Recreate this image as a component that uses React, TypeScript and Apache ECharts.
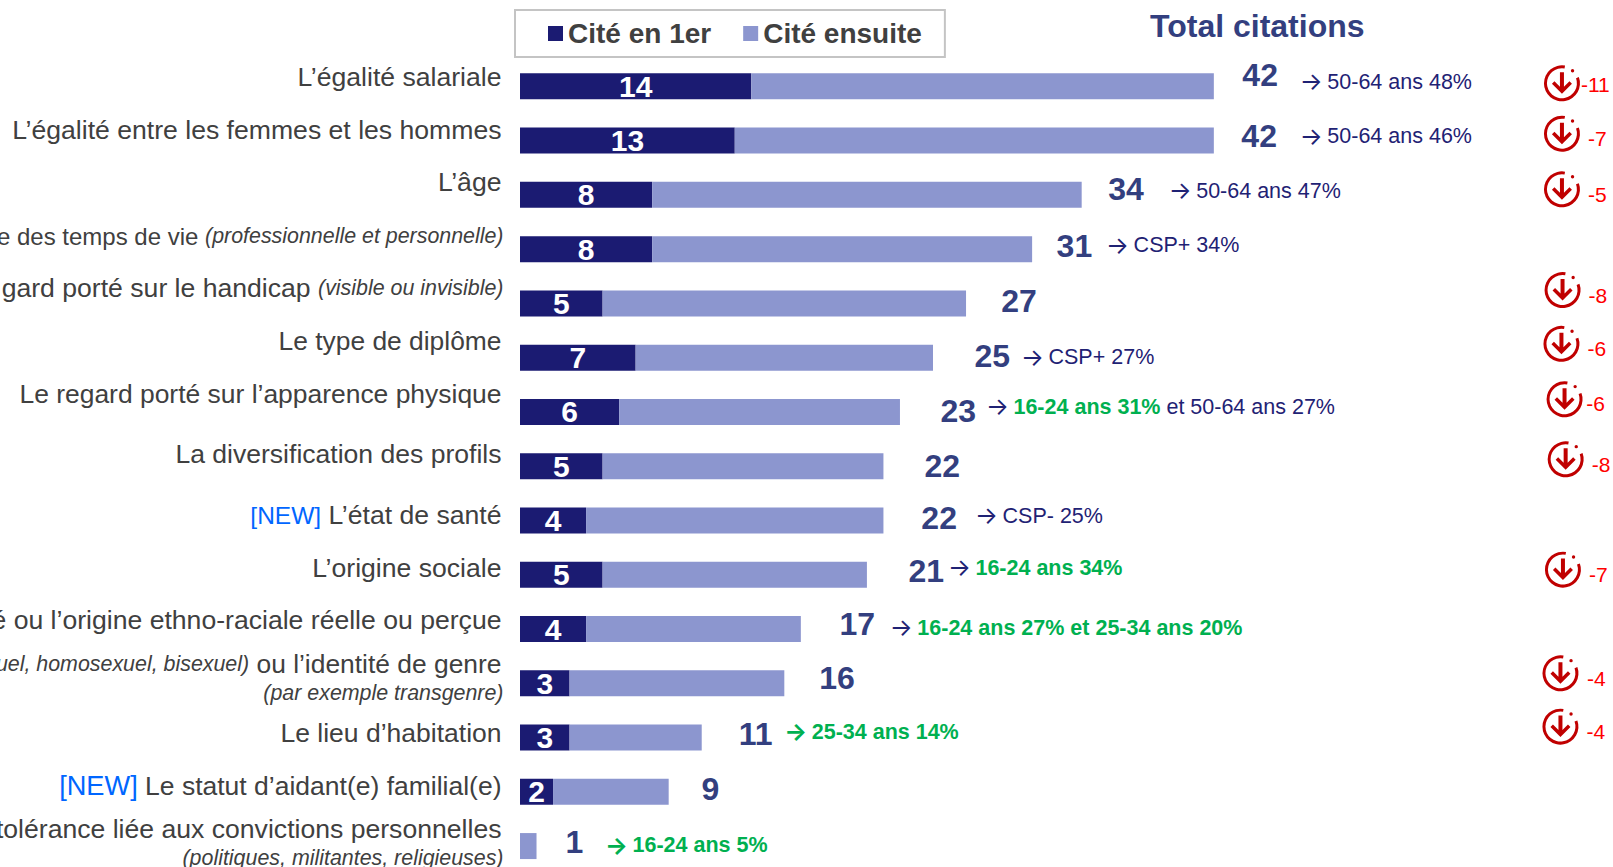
import React, { useEffect, useRef } from "react";
import * as echarts from "echarts";

const categories = [
  "L’égalité salariale",
  "L’égalité entre les femmes et les hommes",
  "L’âge",
  "e des temps de vie (professionnelle et personnelle)",
  "gard porté sur le handicap (visible ou invisible)",
  "Le type de diplôme",
  "Le regard porté sur l’apparence physique",
  "La diversification des profils",
  "[NEW] L’état de santé",
  "L’origine sociale",
  "é ou l’origine ethno-raciale réelle ou perçue",
  "uel, homosexuel, bisexuel) ou l’identité de genre\n(par exemple transgenre)",
  "Le lieu d’habitation",
  "[NEW] Le statut d’aidant(e) familial(e)",
  "tolérance liée aux convictions personnelles\n(politiques, militantes, religieuses)",
];
const citeEnPremier = [14, 13, 8, 8, 5, 7, 6, 5, 4, 5, 4, 3, 3, 2, 0];
const citeEnsuite = [28, 29, 26, 23, 22, 18, 17, 17, 18, 16, 13, 13, 8, 7, 1];
const totalCitations = [42, 42, 34, 31, 27, 25, 23, 22, 22, 21, 17, 16, 11, 9, 1];

const annotationRows = [0, 1, 2, 3, 5, 6, 8, 9, 10, 12, 14];
const annotationTexts = [
  "{an|→}{navy|50-64 ans 48%}",
  "{an|→}{navy|50-64 ans 46%}",
  "{an|→}{navy|50-64 ans 47%}",
  "{an|→}{navy|CSP+ 34%}",
  "{an|→}{navy|CSP+ 27%}",
  "{an|→}{green|16-24 ans 31%}{navy| et 50-64 ans 27%}",
  "{an|→}{navy|CSP- 25%}",
  "{an|→}{green|16-24 ans 34%}",
  "{an|→}{green|16-24 ans 27% et 25-34 ans 20%}",
  "{ag|→}{green|25-34 ans 14%}",
  "{ag|→}{green|16-24 ans 5%}",
];

const deltaRows = [0, 1, 2, 4, 5, 6, 7, 9, 11, 12];
const deltaValues = [-11, -7, -5, -8, -6, -6, -8, -7, -4, -4];

// Layout only: hand placement of the annotations around the rows (px)
const rowLabelShift = [-9, -10.5, -13, -13, -15, -17, -18, -12, -5, -6.5, -9, -4.5, -5, -6, -3];
const rowLabelInset = [2, 2, 2, 0, 0, 2, 2, 2, 2, 2, 2, 0, 2, 2, 0];
const rowMainSize = [26.6, 26.6, 26.6, 24, 26.6, 26.4, 26.45, 26.55, 26.6, 26.6, 26.6, 26.4, 26.5, 26.5, 26.6];
const totalShift = [
  [28, -11.6], [27, -4.6], [26, -5.8], [24, -3], [34.7, -2.3],
  [41, -1.6], [40, -1.2], [40.6, 0], [37.4, -2.1], [41, -3.6],
  [38.2, -4.6], [34.4, -5.5], [36.5, -3.4], [32.3, -2.4], [28.5, -4.2],
];
const annotationShift = [
  [85.5, -4.6], [85.5, -4.6], [86.5, -4.1], [73.5, -4.1], [87.5, -0.3],
  [85.5, -5.2], [91.1, -4.7], [80.5, -6.9], [88.5, -1.2], [82, -5.7], [68, -0.9],
];
const iconShift = [
  [1.2, -3], [1.2, -6.9], [1.2, -5.5], [1.8, -13.3], [0.7, -13.8],
  [3.8, -12.7], [4.9, -6.9], [2.2, -5.1], [-0.3, -10], [-0.3, -10.9],
];
const deltaShift = [
  [1, 1.4], [8, 4.6], [8, 5], [8, 5.7], [8, 4.7],
  [3.8, 3.8], [8, 5.1], [8, 4.8], [8.5, 5.1], [8, 5.2],
];

const ICON_X = 63;
const ICON_PATH =
  "path://M21.1 0.3A18 18 0 1 0 34.9 11.8L32.1 12.9A15 15 0 1 1 20.6 3.2Z" +
  "M30.3 5.4A1.7 1.7 0 1 1 26.9 5.4A1.7 1.7 0 1 1 30.3 5.4Z" +
  "M16 7H20V21.5L25.5 16L28 18.5L18 28.5L8 18.5L10.5 16L16 21.5Z";

const FONT = "'Liberation Sans', Arial, sans-serif";
const ARROW_FONT = "Inter, 'DejaVu Sans', sans-serif";
const NAVY = "#1F2274";
const GREEN = "#00B050";
const TOTAL = "#333F7F";

function markup(text: string) {
  const lines = text.split("\n");
  return lines
    .map((line, i) => {
      const tagged = line
        .replace(/\[NEW\]/, (m) => (line.includes("statut") ? `{newBig|${m}}` : `{new|${m}}`))
        .replace(/^[^(\n{]*\)/, (m) => `{it|${m}}`)
        .replace(/\([^)]{3,}\)/, (m) => `{it|${m}}`);
      return lines.length > 1 && i === 0 ? `${tagged}{sp| }` : tagged;
    })
    .join("\n");
}

export default function App() {
  const ref = useRef<HTMLDivElement>(null);
  useEffect(() => {
    document.body.style.margin = "0";
    document.body.style.background = "#fff";
    const chart = echarts.init(ref.current!, undefined, { renderer: "svg" });
    const hidden = {
      symbolSize: 1,
      itemStyle: { color: "transparent", opacity: 1 },
      silent: true,
      z: 5,
    };
    chart.setOption({
      animation: false,
      backgroundColor: "#ffffff",
      title: {
        text: "Total citations",
        left: 1150,
        top: 9.5,
        padding: 0,
        textStyle: { fontFamily: FONT, fontSize: 32, fontWeight: "bold", color: TOTAL },
      },
      legend: {
        data: ["Cité en 1er", "Cité ensuite"],
        left: 515,
        top: 10,
        orient: "horizontal",
        padding: [9.5, 23, 9.5, 33],
        itemWidth: 15,
        itemHeight: 15,
        itemGap: 32,
        borderColor: "#C4C4C4",
        borderWidth: 2,
        icon: "rect",
        textStyle: { fontFamily: FONT, fontSize: 28, fontWeight: "bold", color: "#404040" },
        selectedMode: false,
      },
      grid: { left: 520, top: 59.2, width: 16.52 * 66, height: 814, outerBoundsMode: "none" },
      xAxis: { type: "value", min: 0, max: 66, show: false },
      yAxis: {
        type: "category",
        inverse: true,
        data: categories.map((value, i) => {
          const s = rowLabelShift[i];
          return {
            value,
            textStyle: {
              fontSize: rowMainSize[i],
              padding: [0, rowLabelInset[i], -2 * s, 0],
            },
          };
        }),
        axisLine: { show: false },
        axisTick: { show: false },
        splitLine: { show: false },
        axisLabel: {
          interval: 0,
          margin: 16.5,
          color: "#404040",
          fontFamily: FONT,
          fontSize: 26.6,
          lineHeight: 29,
          formatter: (v: string) => markup(v),
          rich: {
            it: { fontFamily: FONT, fontStyle: "italic", fontSize: 21.4, color: "#404040", lineHeight: 29 },
            new: { fontFamily: FONT, fontSize: 24.5, color: "#0066FF", lineHeight: 29 },
            newBig: { fontFamily: FONT, fontSize: 27.2, color: "#0066FF", lineHeight: 29 },
            sp: { width: 2, fontSize: 6, lineHeight: 29 },
          },
        },
      },
      series: [
        {
          name: "Cité en 1er",
          type: "bar",
          stack: "c",
          barWidth: 26,
          data: citeEnPremier,
          itemStyle: { color: "#1B1B72" },
          label: {
            show: true,
            position: "inside",
            color: "#ffffff",
            fontFamily: FONT,
            fontWeight: "bold",
            fontSize: 30,
            formatter: (p: any) => (p.value ? String(p.value) : ""),
          },
          z: 2,
        },
        {
          name: "Cité ensuite",
          type: "bar",
          stack: "c",
          barWidth: 26,
          data: citeEnsuite,
          itemStyle: { color: "#8C96CF" },
        },
        {
          name: "total",
          type: "scatter",
          ...hidden,
          data: totalCitations.map((t, i) => ({
            value: [t, i],
            label: { offset: totalShift[i] },
          })),
          label: {
            show: true,
            position: "right",
            distance: 0,
            color: TOTAL,
            opacity: 1,
            fontFamily: FONT,
            fontWeight: "bold",
            fontSize: 32,
            formatter: (p: any) => String(p.value[0]),
          },
        },
        {
          name: "notes",
          type: "scatter",
          ...hidden,
          data: annotationRows.map((r, i) => ({
            value: [totalCitations[r], r],
            label: { offset: annotationShift[i], formatter: annotationTexts[i] },
          })),
          label: {
            show: true,
            position: "right",
            distance: 0,
            opacity: 1,
            fontFamily: FONT,
            fontSize: 21.5,
            rich: {
              an: { fontFamily: ARROW_FONT, fontSize: 24, color: NAVY, width: 27.5, align: "left" },
              ag: { fontFamily: ARROW_FONT, fontSize: 24, fontWeight: "bold", color: GREEN, width: 27.5, align: "left" },
              navy: { fontFamily: FONT, fontSize: 21.5, color: NAVY },
              green: { fontFamily: FONT, fontSize: 21.5, fontWeight: "bold", color: GREEN },
            },
          },
        },
        {
          name: "evolution",
          type: "scatter",
          silent: true,
          symbol: ICON_PATH,
          symbolSize: 36,
          z: 5,
          itemStyle: { color: "#C00000", opacity: 1 },
          data: deltaRows.map((r, i) => ({
            value: [ICON_X, r],
            symbolOffset: iconShift[i],
            label: { offset: deltaShift[i], formatter: String(deltaValues[i]) },
          })),
          label: {
            show: true,
            position: "right",
            distance: 0,
            opacity: 1,
            color: "#FF0000",
            fontFamily: FONT,
            fontSize: 21,
          },
        },
      ],
    });
    return () => chart.dispose();
  }, []);
  return <div ref={ref} style={{ width: 1613, height: 867, overflow: "hidden" }} />;
}
